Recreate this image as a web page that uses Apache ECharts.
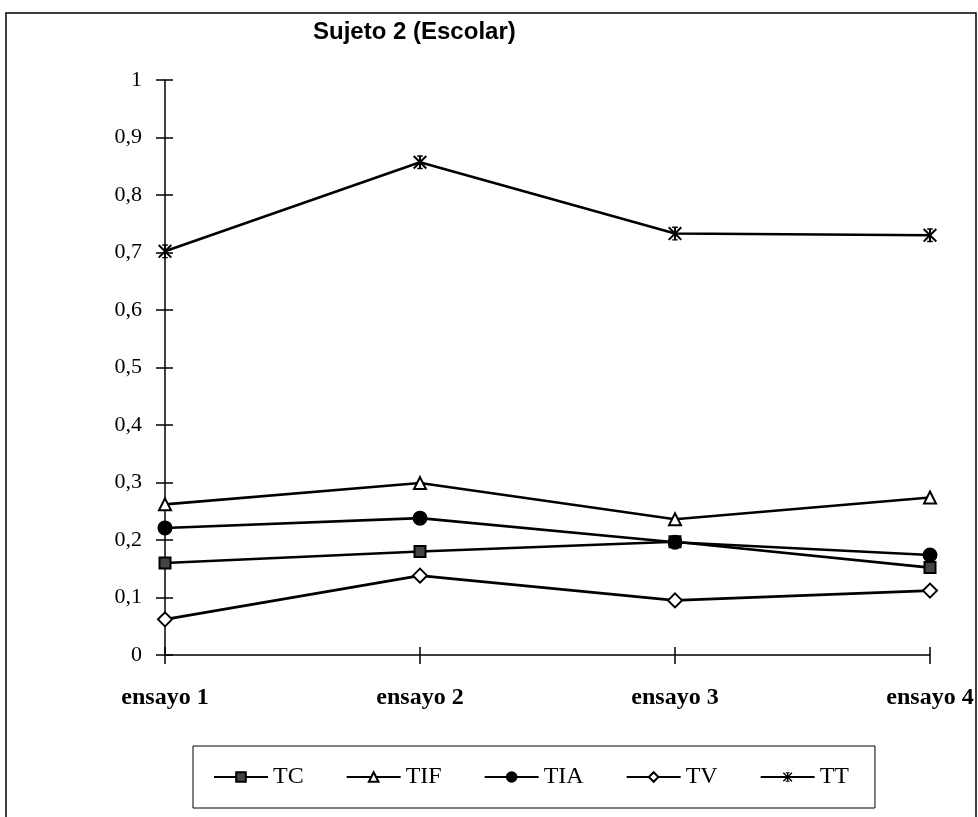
<!DOCTYPE html>
<html>
<head>
<meta charset="utf-8">
<script src="https://cdn.jsdelivr.net/npm/echarts@6/dist/echarts.min.js"></script>
<style>
html,body{margin:0;padding:0;background:#fff;}
#chart{width:978px;height:817px;}
</style>
</head>
<body>
<div id="chart"></div>
<script>
var categories = ['ensayo 1', 'ensayo 2', 'ensayo 3', 'ensayo 4'];
var TC  = [0.16, 0.18, 0.197, 0.152];
var TIF = [0.262, 0.299, 0.236, 0.274];
var TIA = [0.221, 0.238, 0.196, 0.174];
var TV  = [0.062, 0.138, 0.095, 0.112];
var TT  = [0.702, 0.857, 0.733, 0.730];
var yTicks = {min: 0, max: 1, interval: 0.1};

var asterisk = 'path://M4.3,0 L5.7,0 L5.7,10 L4.3,10 Z M0,1 L1,0 L10,9 L9,10 Z M9,0 L10,1 L1,10 L0,9 Z M3,0 L7,0 L7,1 L3,1 Z M3,9 L7,9 L7,10 L3,10 Z';

var serif = '"Liberation Serif", "Times New Roman", serif';
var chart = echarts.init(document.getElementById('chart'), null, {renderer: 'canvas'});

function mk(name, data, symbol, size, fill) {
  return {
    name: name, type: 'line', data: data,
    symbol: symbol, symbolSize: size,
    showAllSymbol: true,
    lineStyle: {color: '#000', width: 2.6},
    itemStyle: {color: fill, borderColor: '#000', borderWidth: symbol === asterisk ? 0 : 2},
    emphasis: {disabled: true},
    z: 3
  };
}

chart.setOption({
  animation: false,
  backgroundColor: '#fff',
  title: {
    text: 'Sujeto 2 (Escolar)',
    left: 308, top: 15,
    textStyle: {fontFamily: '"Liberation Sans", Arial, sans-serif', fontWeight: 'bold', fontSize: 24, color: '#000'}
  },
  grid: {left: 165, right: 48, top: 80, bottom: 162, containLabel: false},
  legend: {
    left: 193, top: 746,
    padding: [19, 26, 19, 20],
    borderColor: '#000', borderWidth: 1,
    itemWidth: 54, itemHeight: 12, itemGap: 42,
    textStyle: {fontFamily: serif, fontSize: 24, color: '#000', padding: [0, 0, 0, 0]},
    data: ['TC', 'TIF', 'TIA', 'TV', 'TT']
  },
  graphic: [{
    type: 'rect', shape: {x: 6, y: 13, width: 970, height: 830},
    style: {fill: null, stroke: '#000', lineWidth: 1.5}, silent: true, z: -1
  }],
  xAxis: [{
    type: 'category', data: categories, boundaryGap: false, position: 'bottom',
    axisLine: {lineStyle: {color: '#000', width: 1.5}},
    axisTick: {show: true, inside: false, length: 9, alignWithLabel: true, lineStyle: {color: '#000', width: 1.5}},
    axisLabel: {margin: 31, fontFamily: serif, fontSize: 24, fontWeight: 'bold', color: '#000'},
    splitLine: {show: false}
  }, {
    type: 'category', data: categories, boundaryGap: false, position: 'bottom',
    axisLine: {show: false},
    axisTick: {show: true, inside: true, length: 8, lineStyle: {color: '#000', width: 1.5}},
    axisLabel: {show: false},
    splitLine: {show: false}
  }],
  yAxis: [{
    type: 'value', min: yTicks.min, max: yTicks.max, interval: yTicks.interval, position: 'left',
    axisLine: {show: true, lineStyle: {color: '#000', width: 1.5}},
    axisTick: {show: true, inside: false, length: 9, lineStyle: {color: '#000', width: 1.5}},
    axisLabel: {margin: 23, fontFamily: serif, fontSize: 22, color: '#000',
      formatter: function (v) { return String(+v.toFixed(1)).replace('.', ','); }},
    splitLine: {show: false}
  }, {
    type: 'value', min: yTicks.min, max: yTicks.max, interval: yTicks.interval, position: 'left',
    axisLine: {show: false},
    axisTick: {show: true, inside: true, length: 8, lineStyle: {color: '#000', width: 1.5}},
    axisLabel: {show: false},
    splitLine: {show: false}
  }],
  series: [
    mk('TC', TC, 'rect', 11, '#444'),
    mk('TIF', TIF, 'triangle', 12, '#fff'),
    mk('TIA', TIA, 'circle', 13, '#000'),
    mk('TV', TV, 'diamond', 14, '#fff'),
    mk('TT', TT, asterisk, 14, '#000')
  ]
});
</script>
</body>
</html>
